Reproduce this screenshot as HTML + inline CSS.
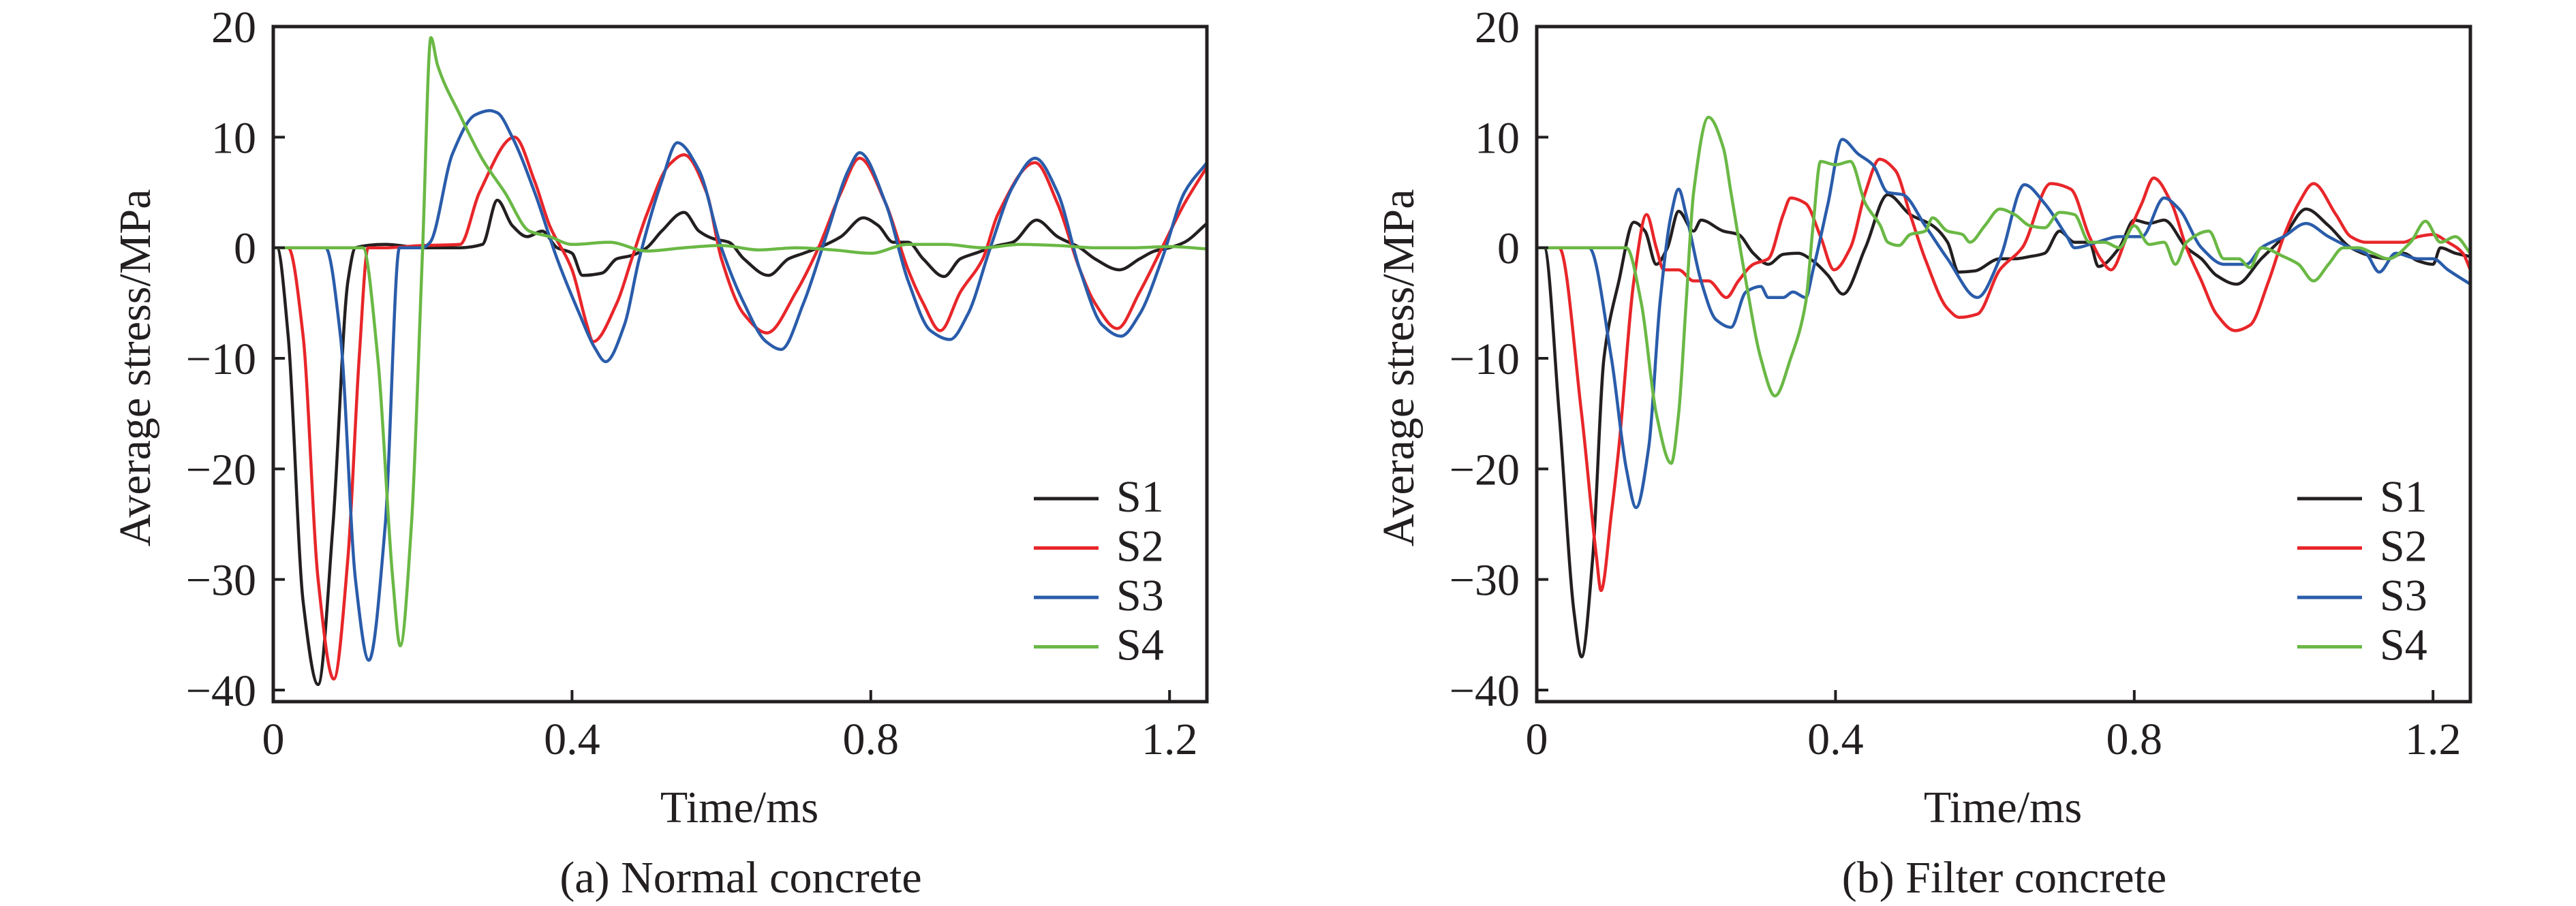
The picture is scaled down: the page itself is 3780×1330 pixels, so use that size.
<!DOCTYPE html>
<html><head><meta charset="utf-8">
<style>
html,body{margin:0;padding:0;background:#fff;}
svg{display:block;}
text{font-family:"Liberation Serif",serif;fill:#231f20;}
</style></head>
<body>
<svg id="fig" width="3780" height="1330" viewBox="0 0 3780 1330" xmlns="http://www.w3.org/2000/svg"></svg>
<script>
// ---------- data ----------
const xTicks = [0, 0.4, 0.8, 1.2];
const xTickLabels = ["0", "0.4", "0.8", "1.2"];
const yTicks = [20, 10, 0, -10, -20, -30, -40];
const yTickLabels = ["20", "10", "0", "\u221210", "\u221220", "\u221230", "\u221240"];
const seriesNames = ["S1", "S2", "S3", "S4"];
const seriesColors = ["#231f20", "#e8262a", "#2a5caa", "#6ab845"];
const panelCaptions = ["(a) Normal concrete", "(b) Filter concrete"];

// Panel A (normal concrete)
const a1t = [0,0.005,0.02,0.04,0.06,0.08,0.1,0.11,0.15,0.2,0.25,0.28,0.3,0.32,0.34,0.36,0.38,0.4,0.414,0.44,0.46,0.48,0.5,0.52,0.55,0.57,0.59,0.61,0.63,0.663,0.69,0.71,0.73,0.76,0.79,0.81,0.83,0.85,0.87,0.898,0.92,0.94,0.97,0.99,1.022,1.05,1.08,1.1,1.133,1.16,1.18,1.2,1.22,1.25];
const a1v = [0,0,-8,-32,-39.5,-25,-3,0,0.3,0,0,0.3,4.3,2,1,1.5,0,-0.5,-2.5,-2.3,-1,-0.7,0,1.5,3.2,1.5,0.8,0.5,-1,-2.5,-1,-0.5,0,1,2.7,2,0.5,0.5,-1,-2.6,-1,-0.5,0.2,0.5,2.5,1,0,-1,-2,-1,-0.3,0,0.5,2.2];
const a2t = [0,0.02,0.04,0.06,0.081,0.1,0.115,0.127,0.15,0.2,0.25,0.276,0.323,0.35,0.37,0.4,0.42,0.428,0.46,0.48,0.5,0.53,0.55,0.58,0.6,0.63,0.661,0.7,0.73,0.76,0.785,0.82,0.85,0.87,0.893,0.92,0.95,0.97,1.02,1.05,1.08,1.1,1.13,1.16,1.19,1.22,1.25];
const a2v = [0,0,-8,-30,-39,-28,-10,0,0,0.2,0.3,5,10,6,2,-2,-7,-8.5,-5,-1,3,7.5,8.4,5,-1,-6,-7.7,-4,0,5,8.1,4,-2,-5,-7.5,-4,-1,3,7.7,4,-2,-5,-7.3,-4,0,4,7.3];
const a3t = [0,0.07,0.09,0.11,0.128,0.15,0.169,0.2,0.21,0.24,0.27,0.29,0.3,0.32,0.35,0.38,0.41,0.43,0.445,0.47,0.49,0.52,0.541,0.57,0.6,0.63,0.66,0.68,0.71,0.74,0.77,0.785,0.82,0.85,0.88,0.906,0.93,0.96,0.99,1.02,1.05,1.08,1.11,1.135,1.16,1.19,1.22,1.25];
const a3v = [0,0,-8,-30,-37.3,-25,0,0,0.5,8.5,12,12.4,12.2,10,5,-1,-6,-9,-10.3,-7,-1,6,9.5,7,0,-5,-8.5,-9.2,-5,1,7,8.6,4,-3,-7.5,-8.3,-6,0,5.5,8.1,5,-2,-7,-8,-6,-1,5,7.7];
const a4t = [0,0.12,0.14,0.16,0.17,0.185,0.2,0.211,0.22,0.25,0.28,0.31,0.343,0.37,0.4,0.45,0.5,0.55,0.6,0.65,0.7,0.75,0.8,0.85,0.9,0.95,1.0,1.05,1.1,1.15,1.2,1.25];
const a4v = [0,0,-10,-30,-36,-25,0,19,16.5,12,8,5,1.5,1,0.3,0.5,-0.3,0,0.2,-0.2,0,-0.2,-0.5,0.3,0.3,0,0.3,0.2,0,0,0.1,-0.1];

// Panel B (filter concrete)
const b1t = [0,0.01,0.03,0.05,0.06,0.075,0.09,0.11,0.13,0.145,0.16,0.175,0.19,0.21,0.22,0.25,0.27,0.29,0.31,0.33,0.35,0.37,0.39,0.41,0.44,0.47,0.5,0.53,0.55,0.565,0.586,0.62,0.64,0.66,0.68,0.7,0.72,0.74,0.752,0.78,0.8,0.82,0.84,0.87,0.89,0.91,0.937,0.97,1.0,1.03,1.06,1.09,1.12,1.14,1.16,1.18,1.2,1.21,1.23,1.25];
const b1v = [0,0,-15,-33,-37,-28,-10,-3,2.3,1.5,-1.5,0,3.3,1.5,2.5,1.5,1.2,-0.5,-1.5,-0.6,-0.5,-1.2,-2.5,-4.2,0,4.8,3,2,0.5,-2.2,-2.1,-1,-1,-0.8,-0.5,1.5,0.5,0.5,-1.7,0,2.5,2.2,2.5,0,-1,-2.5,-3.3,-1,1,3.5,2,0,-0.8,-1,-0.5,-1.2,-1.5,0,-0.5,-0.8];
const b2t = [0,0.03,0.06,0.08,0.086,0.1,0.11,0.13,0.147,0.16,0.17,0.19,0.21,0.23,0.254,0.27,0.29,0.31,0.33,0.34,0.36,0.38,0.398,0.42,0.44,0.459,0.48,0.5,0.52,0.55,0.566,0.59,0.62,0.65,0.688,0.715,0.74,0.755,0.769,0.79,0.81,0.826,0.85,0.87,0.89,0.91,0.935,0.955,0.98,1.0,1.02,1.04,1.07,1.09,1.11,1.14,1.16,1.18,1.2,1.22,1.24,1.25];
const b2v = [0,0,-15,-28,-31,-24,-18,-3,3,0,-2,-2,-3,-3,-4.5,-3,-1.5,-1,3,4.5,4,1,-2,0,5,8,7,3,-1,-5.5,-6.3,-6,-2,0,5.8,5.3,1,-1,-2,1,4,6.3,4,0,-3,-6,-7.5,-7,-3,1,4,5.8,3,1,0.5,0.5,0.5,1,1.2,0.5,-0.5,-2];
const b3t = [0,0.07,0.1,0.12,0.133,0.15,0.165,0.18,0.19,0.2,0.22,0.24,0.26,0.28,0.3,0.31,0.33,0.343,0.36,0.37,0.39,0.409,0.43,0.45,0.47,0.49,0.52,0.55,0.59,0.62,0.653,0.68,0.71,0.72,0.75,0.78,0.81,0.84,0.86,0.89,0.92,0.95,0.97,1.0,1.03,1.06,1.09,1.11,1.128,1.15,1.18,1.2,1.22,1.25];
const b3v = [0,0,-10,-20,-23.5,-18,-5,3,5.3,3,-3,-6.5,-7.2,-4,-3.5,-4.5,-4.5,-4,-4.5,-2,4,9.8,8.5,7.5,5,4.8,2,-1,-4.5,-1,5.7,4,1,0,0.5,1,1,4.5,3.5,0,-1.5,-1.5,0,1,2.2,1,0,-0.5,-2.2,-0.5,-1,-1,-2,-3.3];
const b4t = [0,0.12,0.14,0.16,0.18,0.19,0.2,0.21,0.23,0.25,0.26,0.28,0.3,0.319,0.34,0.36,0.37,0.38,0.4,0.42,0.44,0.46,0.47,0.485,0.5,0.52,0.53,0.55,0.57,0.58,0.6,0.62,0.64,0.66,0.68,0.7,0.72,0.74,0.76,0.78,0.8,0.82,0.84,0.855,0.87,0.9,0.92,0.94,0.955,0.97,1.0,1.02,1.04,1.06,1.08,1.1,1.12,1.14,1.17,1.19,1.21,1.23,1.25];
const b4v = [0,0,-5,-15,-19.5,-15,-5,5,11.8,9,5,-3,-10,-13.4,-10,-5,2,7.8,7.5,7.8,4,2,0.5,0.2,1.2,1.5,2.7,1.5,1.2,0.5,2,3.5,3,2,1.8,3.2,3,0.5,0.5,0,2,0.3,0.5,-1.5,0.5,1.5,-1,-1,-1.8,0,-0.8,-1.5,-3,-1.5,0,0,-0.5,-1,0.5,2.4,0.5,1,-0.5];

const panelTimes = [[a1t,a2t,a3t,a4t],[b1t,b2t,b3t,b4t]];
const panelValues = [[a1v,a2v,a3v,a4v],[b1v,b2v,b3v,b4v]];

// ---------- layout ----------
const NS = "http://www.w3.org/2000/svg";
const svg = document.getElementById('fig');
const plotX0 = [401, 2255];
const plotTop = 39, plotBottom = 1030, plotW = 1370;
const pxPerMs = 1096;
const yMax = 20, yMin = -40, pxPerMPa = (1013 - 39) / 60;

function mk(tag, attrs, parent) {
  const e = document.createElementNS(NS, tag);
  for (const k in attrs) e.setAttribute(k, attrs[k]);
  (parent || svg).appendChild(e);
  return e;
}
// monotone cubic (Fritsch-Carlson) path – no overshoot
function monoPath(pts) {
  const n = pts.length;
  const dx = [], dy = [], m = [];
  for (let i = 0; i < n - 1; i++) {
    dx.push(pts[i + 1][0] - pts[i][0]);
    dy.push(pts[i + 1][1] - pts[i][1]);
    m.push(dy[i] / dx[i]);
  }
  const tg = new Array(n);
  tg[0] = m[0]; tg[n - 1] = m[n - 2];
  for (let i = 1; i < n - 1; i++) {
    if (m[i - 1] * m[i] <= 0) tg[i] = 0;
    else {
      const w1 = 2 * dx[i] + dx[i - 1], w2 = dx[i] + 2 * dx[i - 1];
      tg[i] = (w1 + w2) / (w1 / m[i - 1] + w2 / m[i]);
    }
  }
  let d = "M" + pts[0][0].toFixed(1) + "," + pts[0][1].toFixed(1);
  for (let i = 0; i < n - 1; i++) {
    const h = dx[i] / 3;
    d += " C" + (pts[i][0] + h).toFixed(1) + "," + (pts[i][1] + tg[i] * h).toFixed(1) + " " +
         (pts[i + 1][0] - h).toFixed(1) + "," + (pts[i + 1][1] - tg[i + 1] * h).toFixed(1) + " " +
         pts[i + 1][0].toFixed(1) + "," + pts[i + 1][1].toFixed(1);
  }
  return d;
}

for (let p = 0; p < 2; p++) {
  const x0 = plotX0[p];
  const X = t => x0 + t * pxPerMs;
  const Y = v => plotTop + (yMax - v) * pxPerMPa;
  const g = mk('g', {});
  
  

  const defs = mk('defs', {}, g);
  const cp = mk('clipPath', {id: 'clip' + p}, defs);
  mk('rect', {x: x0, y: plotTop, width: plotW, height: plotBottom - plotTop}, cp);

  const sg = mk('g', {'clip-path': 'url(#clip' + p + ')'}, g);
  for (let s = 0; s < 4; s++) {
    const ts = panelTimes[p][s], vs = panelValues[p][s];
    const pts = ts.map((t, i) => [X(t), Y(vs[i])]);
    const path = mk('path', {d: monoPath(pts), fill: 'none', stroke: seriesColors[s], 'stroke-width': 4.5, 'stroke-linejoin': 'round'}, sg);
    
    
  }

  const frame = mk('rect', {x: x0, y: plotTop, width: plotW, height: plotBottom - plotTop, fill: 'none', stroke: '#231f20', 'stroke-width': 5}, g);
  
  

  for (let i = 0; i < yTicks.length; i++) {
    const y = Y(yTicks[i]);
    if (i > 0) mk('line', {x1: x0, x2: x0 + 17, y1: y, y2: y, stroke: '#231f20', 'stroke-width': 4}, g);
    const tx = mk('text', {x: x0 - 25, y: y + 23, 'font-size': 66, 'text-anchor': 'end'}, g);
    tx.textContent = yTickLabels[i];
    
    
  }
  for (let i = 0; i < xTicks.length; i++) {
    const x = X(xTicks[i]);
    if (i > 0) mk('line', {x1: x, x2: x, y1: plotBottom, y2: plotBottom - 17, stroke: '#231f20', 'stroke-width': 4}, g);
    const tx = mk('text', {x: x, y: 1107, 'font-size': 66, 'text-anchor': 'middle'}, g);
    tx.textContent = xTickLabels[i];
    
    
  }
  const xt = mk('text', {x: x0 + 684, y: 1207, 'font-size': 66, 'text-anchor': 'middle'}, g);
  xt.textContent = 'Time/ms';
  
  
  const yt = mk('text', {x: 0, y: 0, 'font-size': 66, 'text-anchor': 'middle', transform: 'translate(' + (x0 - 181) + ',540) rotate(-90)'}, g);
  yt.textContent = 'Average stress/MPa';
  
  
  const cap = mk('text', {x: x0 + 686, y: 1310, 'font-size': 66, 'text-anchor': 'middle'}, g);
  cap.textContent = panelCaptions[p];
  
  

  const lg = mk('g', {}, g);
  
  
  for (let s = 0; s < 4; s++) {
    const ly = 732 + s * 72.5;
    const ent = mk('g', {}, lg);
    
    
    mk('line', {x1: x0 + 1116, x2: x0 + 1211, y1: ly, y2: ly, stroke: seriesColors[s], 'stroke-width': 5}, ent);
    const t = mk('text', {x: x0 + 1237, y: ly + 19, 'font-size': 66}, ent);
    t.textContent = seriesNames[s];
  }
}
</script>
</body></html>
